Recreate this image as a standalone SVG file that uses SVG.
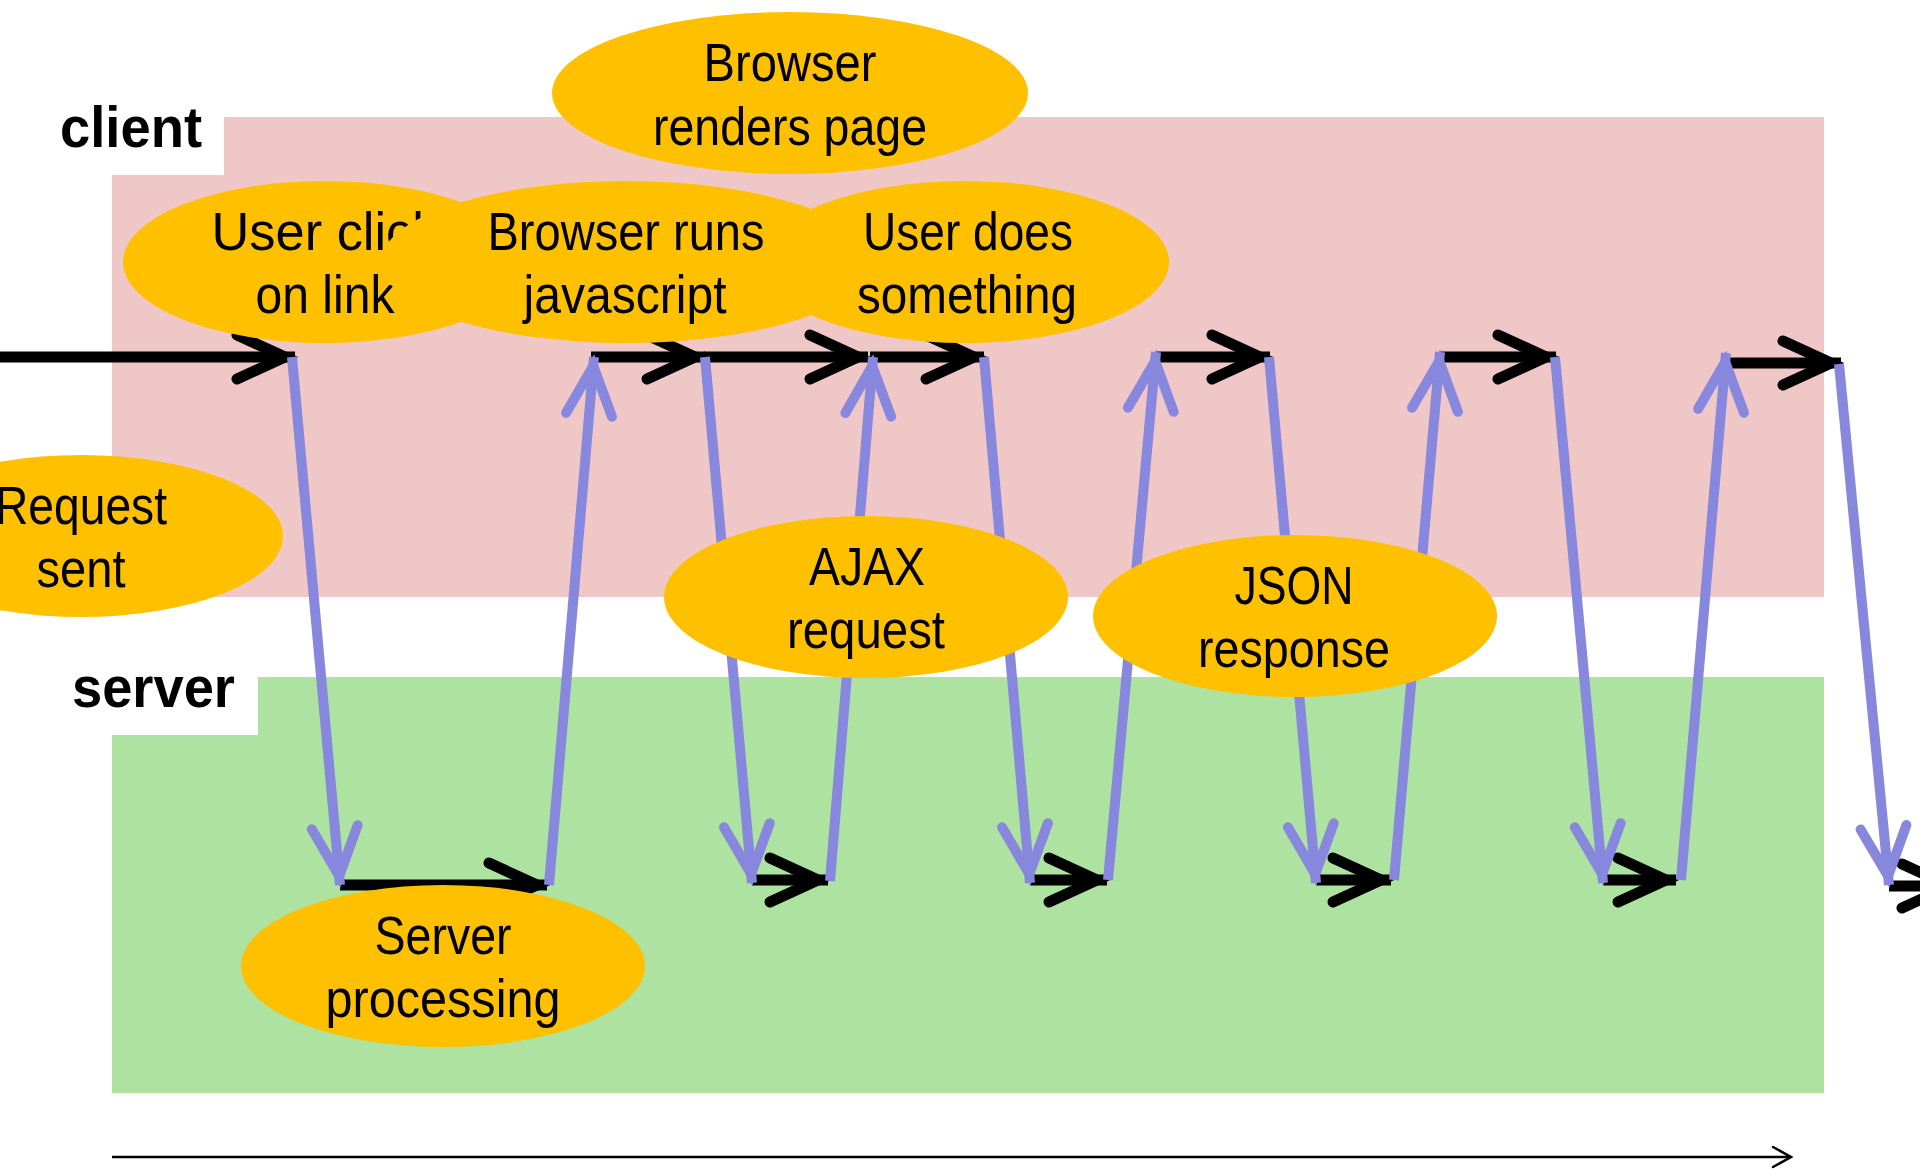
<svg xmlns="http://www.w3.org/2000/svg" width="1920" height="1169" viewBox="0 0 1920 1169">
<defs>
<style>
.node ellipse{fill:#FFC000}
.node text{font-family:"Liberation Sans",Arial,sans-serif;font-size:53px;fill:#000;text-anchor:middle}
.lane{font-family:"Liberation Sans",Arial,sans-serif;font-size:57px;font-weight:bold;fill:#000}
.blk{stroke:#000;stroke-width:11;fill:none;marker-end:url(#hb)}
.pur{stroke:#8787DD;stroke-width:10;fill:none;marker-end:url(#hp)}
</style>
<marker id="hb" markerUnits="userSpaceOnUse" markerWidth="10" markerHeight="10" refX="0" refY="0" orient="auto" overflow="visible">
<path d="M-58,-22 L-10,0 L-58,22" fill="none" stroke="#000" stroke-width="11" stroke-linecap="round" stroke-linejoin="miter"/>
</marker>
<marker id="hp" markerUnits="userSpaceOnUse" markerWidth="10" markerHeight="10" refX="0" refY="0" orient="auto" overflow="visible">
<path d="M-58,-23 L-9,0 L-58,23" fill="none" stroke="#8787DD" stroke-width="10" stroke-linecap="round" stroke-linejoin="miter"/>
</marker>
<marker id="ht" markerUnits="userSpaceOnUse" markerWidth="10" markerHeight="10" refX="0" refY="0" orient="auto" overflow="visible">
<path d="M-18,-10 L0,0 L-18,10" fill="none" stroke="#000" stroke-width="2.5" stroke-linecap="round"/>
</marker>
</defs>
<rect width="1920" height="1169" fill="#fff"/>
<g id="lanes">
<rect x="112" y="117" width="1712" height="480" fill="#F0C7C7"/>
<rect x="0" y="100" width="224" height="75" fill="#fff"/>
<text class="lane" x="60" y="147" textLength="142" lengthAdjust="spacingAndGlyphs">client</text>
<rect x="112" y="677" width="1712" height="416" fill="#ADE2A0"/>
<rect x="0" y="660" width="258" height="75" fill="#fff"/>
<text class="lane" x="72" y="707" textLength="163" lengthAdjust="spacingAndGlyphs">server</text>
</g>
<g id="connectors">
<line class="blk" x1="0" y1="357" x2="295" y2="357"/>
<line class="blk" x1="591" y1="357" x2="705" y2="357"/>
<line class="blk" x1="704" y1="357" x2="868" y2="357"/>
<line class="blk" x1="870" y1="357" x2="984" y2="357"/>
<line class="blk" x1="1156" y1="357" x2="1270" y2="357"/>
<line class="blk" x1="1440" y1="357" x2="1556" y2="357"/>
<line class="blk" x1="1726" y1="363" x2="1841" y2="363"/>
<line class="blk" x1="340" y1="885" x2="547" y2="885"/>
<line class="blk" x1="752" y1="880" x2="828" y2="880"/>
<line class="blk" x1="1030" y1="880" x2="1107" y2="880"/>
<line class="blk" x1="1316" y1="880" x2="1391" y2="880"/>
<line class="blk" x1="1603" y1="880" x2="1676" y2="880"/>
<line class="blk" x1="1889" y1="886" x2="1960" y2="886"/>
<line class="pur" x1="292" y1="357" x2="340" y2="885"/>
<line class="pur" x1="549" y1="885" x2="594" y2="357"/>
<line class="pur" x1="705" y1="357" x2="752" y2="883"/>
<line class="pur" x1="830" y1="881" x2="873" y2="357"/>
<line class="pur" x1="984" y1="357" x2="1030" y2="883"/>
<line class="pur" x1="1108" y1="880" x2="1156" y2="352"/>
<line class="pur" x1="1269" y1="357" x2="1316" y2="883"/>
<line class="pur" x1="1394" y1="880" x2="1440" y2="352"/>
<line class="pur" x1="1555" y1="357" x2="1603" y2="883"/>
<line class="pur" x1="1681" y1="880" x2="1726" y2="353"/>
<line class="pur" x1="1839" y1="364" x2="1889" y2="885"/>
<line x1="112" y1="1157" x2="1791" y2="1157" stroke="#000" stroke-width="2.5" marker-end="url(#ht)"/>
</g>
<g id="n-render" class="node">
<ellipse cx="790" cy="93" rx="238" ry="81"/>
<text x="790" y="81" textLength="173" lengthAdjust="spacingAndGlyphs">Browser</text>
<text x="790" y="145" textLength="274" lengthAdjust="spacingAndGlyphs">renders page</text>
</g>
<g id="n-click" class="node">
<ellipse cx="325" cy="262" rx="202" ry="81"/>
<text x="325" y="250" textLength="227" lengthAdjust="spacingAndGlyphs">User click</text>
<text x="325" y="313" textLength="139" lengthAdjust="spacingAndGlyphs">on link</text>
</g>
<g id="n-js" class="node">
<ellipse cx="626" cy="262" rx="245" ry="81"/>
<text x="626" y="250" textLength="277" lengthAdjust="spacingAndGlyphs">Browser runs</text>
<text x="625" y="313" textLength="203" lengthAdjust="spacingAndGlyphs">javascript</text>
</g>
<g id="n-does" class="node">
<ellipse cx="965" cy="262" rx="204" ry="81"/>
<text x="968" y="250" textLength="210" lengthAdjust="spacingAndGlyphs">User does</text>
<text x="967" y="313" textLength="220" lengthAdjust="spacingAndGlyphs">something</text>
</g>
<g id="n-request" class="node">
<ellipse cx="81" cy="536" rx="202" ry="81"/>
<text x="81" y="524" textLength="172" lengthAdjust="spacingAndGlyphs">Request</text>
<text x="81" y="587" textLength="89" lengthAdjust="spacingAndGlyphs">sent</text>
</g>
<g id="n-ajax" class="node">
<ellipse cx="866" cy="597" rx="202" ry="81"/>
<text x="867" y="585" textLength="116" lengthAdjust="spacingAndGlyphs">AJAX</text>
<text x="866" y="648" textLength="158" lengthAdjust="spacingAndGlyphs">request</text>
</g>
<g id="n-json" class="node">
<ellipse cx="1295" cy="616" rx="202" ry="81"/>
<text x="1294" y="604" textLength="119" lengthAdjust="spacingAndGlyphs">JSON</text>
<text x="1294" y="667" textLength="192" lengthAdjust="spacingAndGlyphs">response</text>
</g>
<g id="n-server" class="node">
<ellipse cx="443" cy="966" rx="202" ry="81"/>
<text x="443" y="954" textLength="137" lengthAdjust="spacingAndGlyphs">Server</text>
<text x="443" y="1017" textLength="235" lengthAdjust="spacingAndGlyphs">processing</text>
</g>
</svg>
